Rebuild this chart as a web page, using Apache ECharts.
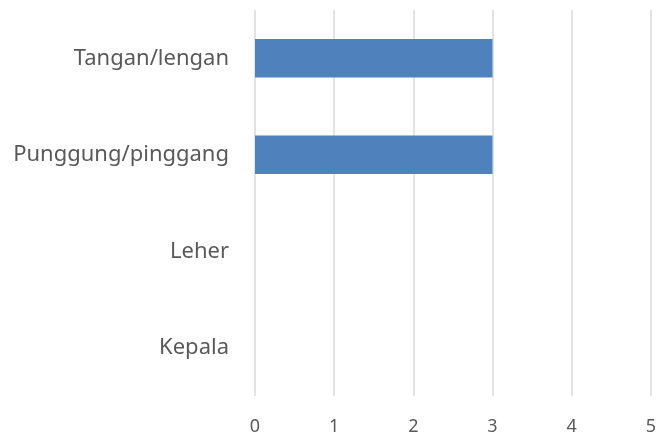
<!DOCTYPE html>
<html>
<head>
<meta charset="utf-8">
<script src="https://cdn.jsdelivr.net/npm/echarts@6/dist/echarts.min.js"></script>
<style>
  html, body { margin: 0; padding: 0; background: #ffffff; }
  #chart { width: 659px; height: 438px; }
</style>
</head>
<body>
<div id="chart"></div>
<script>
// Body regions (bottom to top on the category axis)
const categories = ['Kepala', 'Leher', 'Punggung/pinggang', 'Tangan/lengan'];
// Count of complaints per region
const values = [0, 0, 3, 3];
// Value axis ticks
const xTicks = [0, 1, 2, 3, 4, 5];

const chart = echarts.init(document.getElementById('chart'), null, { renderer: 'canvas' });

chart.setOption({
  animation: false,
  backgroundColor: '#ffffff',
  grid: { left: 255, right: 4, top: 10, bottom: 42, containLabel: false },
  xAxis: {
    type: 'value',
    min: xTicks[0],
    max: xTicks[xTicks.length - 1],
    interval: 1,
    axisLine: { show: false },
    axisTick: { show: false },
    splitLine: { show: true, lineStyle: { color: '#d9d9d9', width: 1.5 } },
    axisLabel: {
      color: '#595959',
      fontFamily: 'Noto Sans',
      fontSize: 18,
      margin: 22,
      formatter: v => xTicks.includes(v) ? String(v) : ''
    }
  },
  yAxis: {
    type: 'category',
    data: categories,
    axisLine: { show: false },
    axisTick: { show: false },
    splitLine: { show: false },
    axisLabel: {
      color: '#595959',
      fontFamily: 'Noto Sans',
      fontSize: 22,
      margin: 26
    }
  },
  series: [{
    type: 'bar',
    data: values,
    barCategoryGap: '60%',
    itemStyle: { color: '#4f81bd' }
  }]
});
</script>
</body>
</html>
